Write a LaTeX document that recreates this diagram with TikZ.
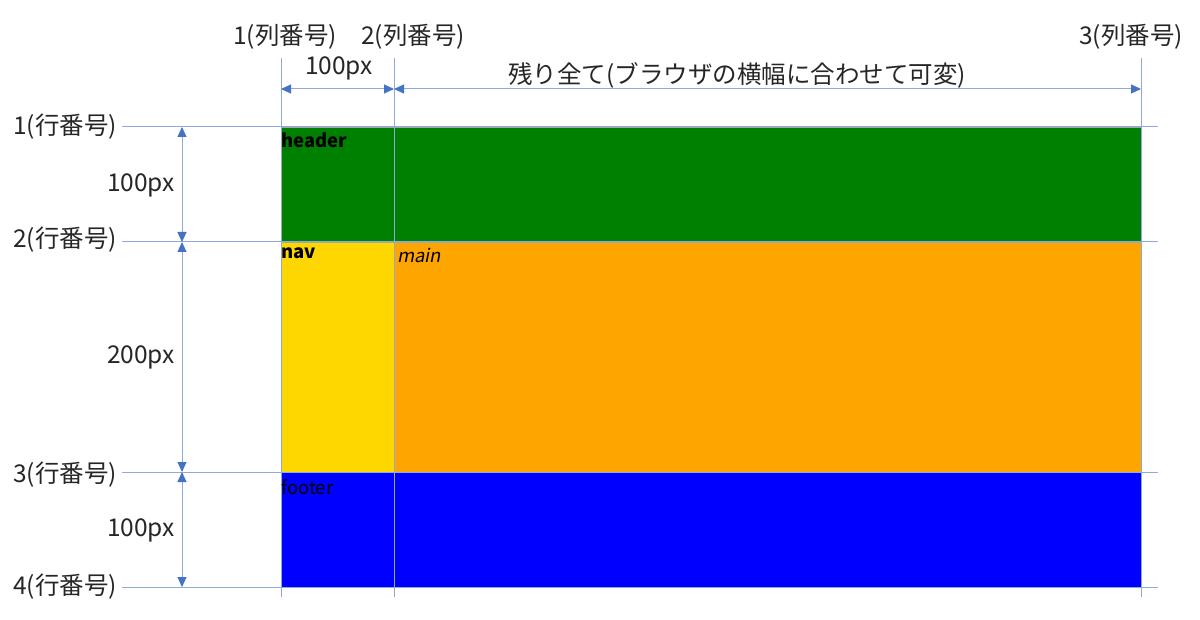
\documentclass[tikz,border=0pt]{standalone}
\usepackage{fontspec}
\setmainfont{Noto Sans CJK JP}[ItalicFont=Noto Sans CJK JP,ItalicFeatures={FakeSlant=0.2}]
\usetikzlibrary{arrows.meta}
\definecolor{gridc}{HTML}{8EA9DB}
\definecolor{arrc}{HTML}{4472C4}
\definecolor{txtc}{HTML}{262626}
\begin{document}
\begin{tikzpicture}[x=1pt,y=-1pt,
  gridline/.style={draw=gridc,line width=1pt},
  dimline/.style={draw=gridc,line width=1pt,{Triangle[length=10pt,width=9pt,color=arrc]}-{Triangle[length=10pt,width=9pt,color=arrc]}},
  lbl/.style={font=\fontsize{24.5}{27}\selectfont,text=txtc,inner sep=0pt},
  boxlbl/.style={font=\fontsize{18.5}{20}\selectfont,inner sep=0pt,anchor=north west},
  area/.style={draw=gray!70,line width=0.6pt}]
\useasboundingbox (0,0) rectangle (1200,620);
% areas
\fill[area,fill={rgb,255:red,0;green,128;blue,0}] (281,127) rectangle (1141,242);
\fill[area,fill={rgb,255:red,255;green,215;blue,0}] (281,242) rectangle (394,472);
\fill[area,fill={rgb,255:red,255;green,165;blue,0}] (394,242) rectangle (1141,472);
\fill[area,fill={rgb,255:red,0;green,0;blue,255}] (281,472) rectangle (1141,587);
% grid coordinates
\coordinate (c1t) at (281,58); \coordinate (c1b) at (281,597);
\coordinate (c2t) at (394,58); \coordinate (c2b) at (394,597);
\coordinate (c3t) at (1141,58); \coordinate (c3b) at (1141,597);
\coordinate (r1l) at (122,127); \coordinate (r1r) at (1158,127);
\coordinate (r2l) at (122,242); \coordinate (r2r) at (1158,242);
\coordinate (r3l) at (122,472); \coordinate (r3r) at (1158,472);
\coordinate (r4l) at (122,587); \coordinate (r4r) at (1158,587);
\draw[gridline] (c1t) -- (c1b);
\draw[gridline] (c2t) -- (c2b);
\draw[gridline] (c3t) -- (c3b);
\draw[gridline] (r1l) -- (r1r);
\draw[gridline] (r2l) -- (r2r);
\draw[gridline] (r3l) -- (r3r);
\draw[gridline] (r4l) -- (r4r);
% dimension arrows
\coordinate (h1) at (281,89); \coordinate (h2) at (394,89); \coordinate (h3) at (1141,89);
\draw[dimline] (h1) -- (h2);
\draw[dimline] (h2) -- (h3);
\coordinate (v1) at (182,127); \coordinate (v2) at (182,242); \coordinate (v3) at (182,472); \coordinate (v4) at (182,587);
\draw[dimline] (v1) -- (v2);
\draw[dimline] (v2) -- (v3);
\draw[dimline] (v3) -- (v4);
% column labels
\node[lbl] (col1) at (285,37) {1(列番号)};
\node[lbl] (col2) at (413,37) {2(列番号)};
\node[lbl] (col3) at (1131,37) {3(列番号)};
\node[lbl] (w100) at (339,68) {100px};
\node[lbl] (wrest) at (737,75) {残り全て(ブラウザの横幅に合わせて可変)};
% row labels
\node[lbl,anchor=east] (row1) at (117,127) {1(行番号)};
\node[lbl,anchor=east] (row2) at (117,240) {2(行番号)};
\node[lbl,anchor=east] (row3) at (117,475) {3(行番号)};
\node[lbl,anchor=east] (row4) at (117,587) {4(行番号)};
\node[lbl,anchor=east] (h100a) at (175,185) {100px};
\node[lbl,anchor=east] (h200) at (175,357) {200px};
\node[lbl,anchor=east] (h100b) at (175,530) {100px};
% box labels
\node[boxlbl,font=\fontsize{18.5}{20}\selectfont\bfseries] (thead) at (281,133) {header};
\node[boxlbl,font=\fontsize{18.5}{20}\selectfont\bfseries] (tnav) at (281,248) {nav};
\node[boxlbl,font=\fontsize{18.5}{20}\selectfont\itshape] (tmain) at (397,248) {main};
\node[boxlbl] (tfoot) at (281,479) {footer};
\end{tikzpicture}
\end{document}
